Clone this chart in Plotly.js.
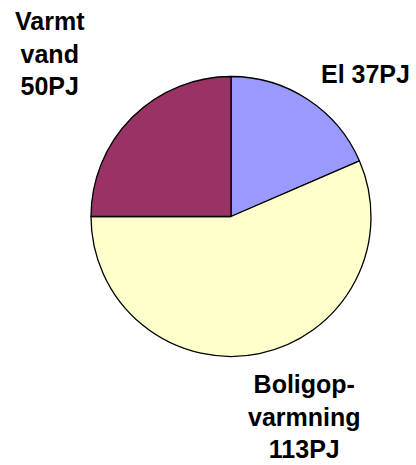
<!DOCTYPE html>
<html>
<head>
<meta charset="utf-8">
<script src="https://cdn.plot.ly/plotly-3.0.1.min.js"></script>
<style>html,body{margin:0;padding:0;background:#fff;}</style>
</head>
<body>
<div id="chart" style="width:416px;height:465px;"></div>
<script>
const categories = ["El", "Boligopvarmning", "Varmt vand"];
const values = [37, 113, 50];
const labelTexts = ["El 37PJ", "Boligop-<br>varmning<br>113PJ", "Varmt<br>vand<br>50PJ"];
const colors = ["#9999FF", "#FFFFCC", "#993366"];

const W = 416, H = 465;
const labelPos = [
  {x: 365, y: 74},
  {x: 304, y: 416},
  {x: 50, y: 54}
];

const trace = {
  type: "pie",
  labels: categories,
  values: values,
  sort: false,
  direction: "clockwise",
  rotation: 0,
  textinfo: "none",
  hoverinfo: "none",
  marker: {colors: colors, line: {color: "#000000", width: 1.3}},
  domain: {x: [91/W, 371/W], y: [1 - 356.5/H, 1 - 76.5/H]},
  showlegend: false
};

const annotations = labelTexts.map((t, i) => ({
  text: t,
  xref: "paper", yref: "paper",
  x: labelPos[i].x / W, y: 1 - labelPos[i].y / H,
  xanchor: "center", yanchor: "middle",
  align: "center",
  showarrow: false,
  font: {family: "Liberation Sans, Arial, sans-serif", size: 25, color: "#000000", weight: "bold"}
}));

Plotly.newPlot("chart", [trace], {
  width: W, height: H,
  margin: {l: 0, r: 0, t: 0, b: 0},
  paper_bgcolor: "#ffffff",
  plot_bgcolor: "#ffffff",
  showlegend: false,
  annotations: annotations
}, {staticPlot: true, displayModeBar: false});
</script>
</body>
</html>
